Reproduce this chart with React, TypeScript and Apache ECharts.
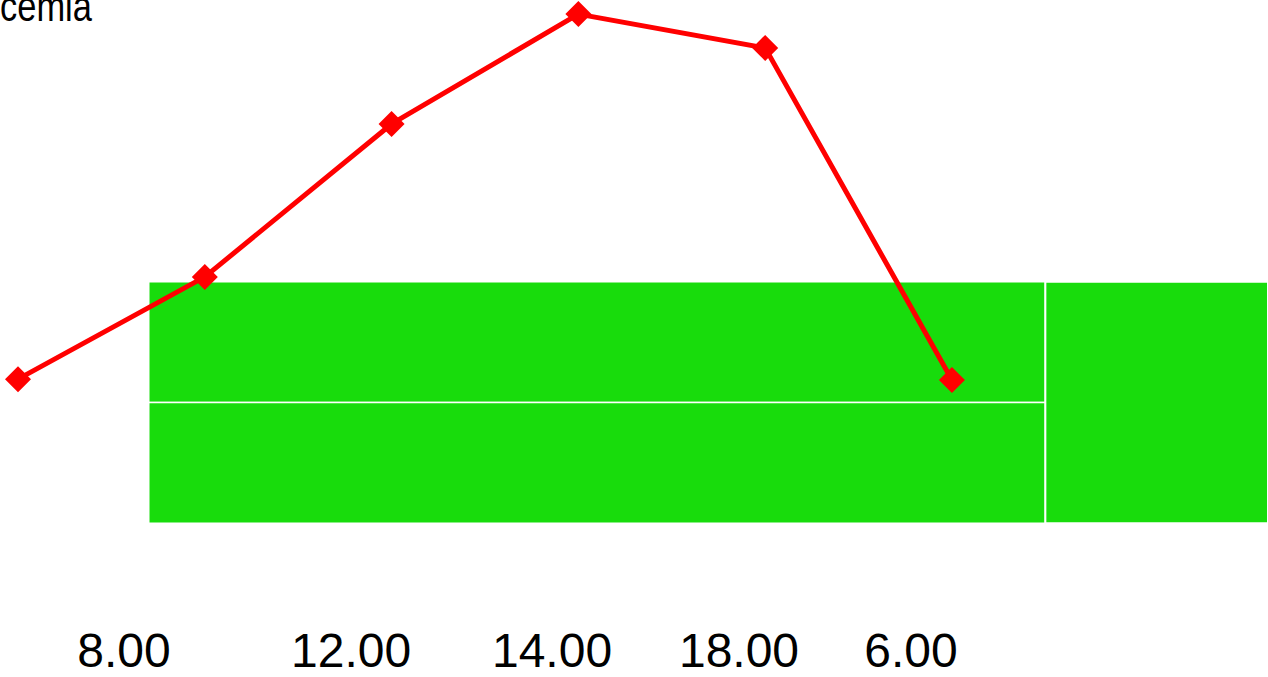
import React, { useEffect, useRef } from "react";
import * as echarts from "echarts";

const titleText = "Glicemia";
const pointIndex = [0, 1, 2, 3, 4, 5];
const glycemiaValues = [105.8, 131.2, 169.2, 196.5, 188.1, 105.6];
const tickLabels = ["8.00", "12.00", "14.00", "18.00", "6.00"];
const tickPositions = [0.567, 1.783, 2.859, 3.86, 4.781];
const bandX = [0.7, 5.5, 7];
const bandY = [70, 100, 130];

export default function App() {
  const ref = useRef<HTMLDivElement>(null);
  useEffect(() => {
    if (!ref.current) return;
    const chart = echarts.init(ref.current, undefined, { renderer: "svg" });
    const xMin = -0.0964;
    const xMax = 6.692;
    chart.setOption({
      animation: false,
      graphic: [
        {
          type: "text",
          x: -42,
          y: -15,
          scaleX: 0.82,
          style: {
            text: titleText,
            font: "42px 'Liberation Sans', Arial, sans-serif",
            fill: "#000",
            textAlign: "left",
            textVerticalAlign: "top",
          },
        },
      ],
      grid: { left: 0, right: 0, top: 0, bottom: 73.25, containLabel: false },
      xAxis: [
        {
          type: "value",
          min: xMin,
          max: xMax,
          axisLine: { show: false },
          axisTick: { show: false },
          splitLine: { show: false },
          axisLabel: { show: false },
        },
        {
          type: "value",
          min: xMin,
          max: xMax,
          position: "bottom",
          axisLine: { show: false },
          axisTick: { show: false },
          splitLine: { show: false },
          axisLabel: {
            customValues: tickPositions,
            formatter: (v: number) => {
              const i = tickPositions.findIndex((p) => Math.abs(p - v) < 1e-6);
              return i >= 0 ? tickLabels[i] : "";
            },
            margin: 23,
            fontFamily: "Liberation Sans",
            fontSize: 48,
            lineHeight: 48,
            color: "#000",
            showMinLabel: true,
            showMaxLabel: true,
            hideOverlap: false,
          },
        },
      ],
      yAxis: {
        type: "value",
        min: 50,
        max: 200,
        show: false,
        splitLine: { show: false },
      },
      series: [
        {
          type: "line",
          xAxisIndex: 0,
          data: pointIndex.map((x, i) => [x, glycemiaValues[i]]),
          symbol: "diamond",
          symbolSize: 26,
          lineStyle: { color: "#ff0000", width: 5 },
          itemStyle: { color: "#ff0000" },
          clip: false,
          z: 5,
          markArea: {
            silent: true,
            itemStyle: { color: "#18dc0c", borderColor: "#ffffff", borderWidth: 1.5 },
            data: [
              [{ coord: [bandX[0], bandY[2]] }, { coord: [bandX[1], bandY[1]] }],
              [{ coord: [bandX[0], bandY[1]] }, { coord: [bandX[1], bandY[0]] }],
              [
                { coord: [bandX[1], bandY[2]], itemStyle: { borderWidth: 2 } },
                { coord: [bandX[2], bandY[0]] },
              ],
            ],
          },
        },
      ],
    });
    return () => chart.dispose();
  }, []);
  return (
    <div
      ref={ref}
      style={{ position: "fixed", left: 0, top: 0, width: 1268, height: 677, background: "#fff" }}
    />
  );
}
